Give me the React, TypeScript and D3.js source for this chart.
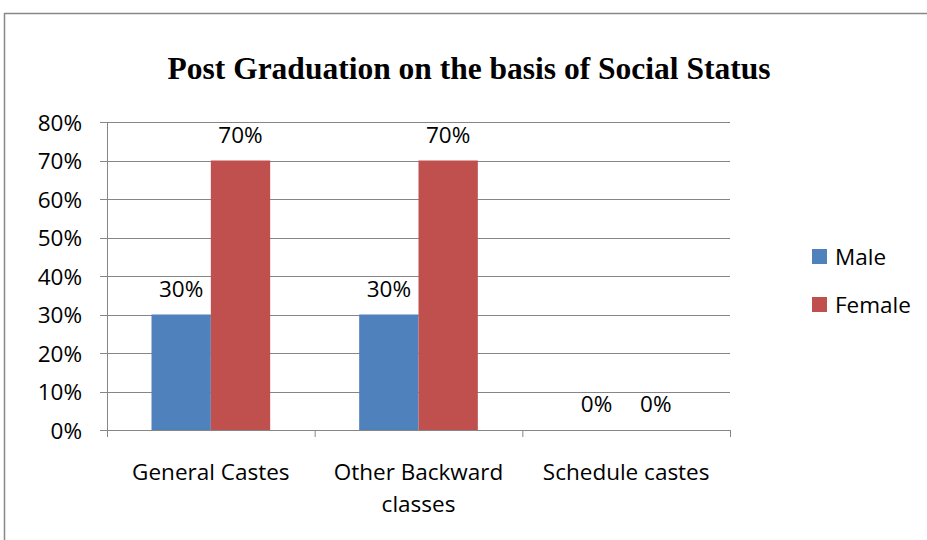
import React from "react";
import * as d3 from "d3";

const categories = ["General Castes", "Other Backward classes", "Schedule castes"];
const categoryLines = [["General Castes"], ["Other Backward", "classes"], ["Schedule castes"]];
const seriesNames = ["Male", "Female"];
const maleValues = [30, 30, 0];
const femaleValues = [70, 70, 0];
const yTicks = [0, 10, 20, 30, 40, 50, 60, 70, 80];
const colors = ["#4F81BD", "#C0504D"];

export default function App() {
  const W = 927, H = 540;
  const left = 107, right = 730, top = 122, bottom = 430;
  const x = d3.scaleBand().domain(categories).range([left, right]).paddingInner(0).paddingOuter(0);
  const inner = d3.scaleBand().domain(seriesNames).range([0, x.bandwidth()]).paddingInner(0).paddingOuter(0.75);
  const y = d3.scaleLinear().domain([0, 80]).range([bottom, top]);
  const series = [maleValues, femaleValues];
  const font = "'Open Sans', Lato, sans-serif";
  const fs = 22.5;
  const grid = "#868686";
  const tickEdges = [...categories.map((c) => x(c)!), right];
  return (
    <svg width={W} height={H} style={{ position: "absolute", left: 0, top: 0 }}>
      <rect x={0} y={0} width={W} height={H} fill="#fff" />
      <line x1={4.5} y1={13} x2={4.5} y2={H} stroke="#888" strokeWidth={1.5} />
      <line x1={4} y1={13.5} x2={W} y2={13.5} stroke="#888" strokeWidth={1.5} />
      <text x={469} y={79} textAnchor="middle" fontFamily="'Liberation Serif', 'Times New Roman', serif" fontWeight="bold" fontSize={31.5} fill="#000">
        Post Graduation on the basis of Social Status
      </text>
      {yTicks.map((t) => (
        <g key={t}>
          <line x1={100} x2={right} y1={Math.round(y(t)) + 0.5} y2={Math.round(y(t)) + 0.5} stroke={grid} strokeWidth={1} />
          <text x={82} y={y(t) + 8.5} textAnchor="end" fontFamily={font} fontSize={fs} fill="#000">{t}%</text>
        </g>
      ))}
      <line x1={left + 0.5} x2={left + 0.5} y1={top} y2={bottom + 7} stroke={grid} strokeWidth={1} />
      {tickEdges.map((e, i) => (
        <line key={i} x1={e + 0.5} x2={e + 0.5} y1={bottom} y2={bottom + 7} stroke={grid} strokeWidth={1} />
      ))}
      {categories.map((c, ci) => (
        <g key={c}>
          {series.map((vals, si) => {
            const bx = x(c)! + inner(seriesNames[si])!;
            const bw = inner.bandwidth();
            return (
              <g key={si}>
                {vals[ci] > 0 && (
                  <rect x={bx} y={y(vals[ci])} width={bw} height={y(0) - y(vals[ci])} fill={colors[si]} />
                )}
                <text x={bx + bw / 2} y={y(vals[ci]) - 18} textAnchor="middle" fontFamily={font} fontSize={fs} fill="#000">
                  {vals[ci]}%
                </text>
              </g>
            );
          })}
          {categoryLines[ci].map((ln, li) => (
            <text key={li} x={x(c)! + x.bandwidth() / 2} y={480 + li * 32} textAnchor="middle" fontFamily={font} fontSize={fs} fill="#000">
              {ln}
            </text>
          ))}
        </g>
      ))}
      {seriesNames.map((s, i) => (
        <g key={s}>
          <rect x={812} y={249 + i * 48} width={15} height={15} fill={colors[i]} />
          <text x={835} y={265 + i * 48} fontFamily={font} fontSize={fs} fill="#000">{s}</text>
        </g>
      ))}
    </svg>
  );
}
